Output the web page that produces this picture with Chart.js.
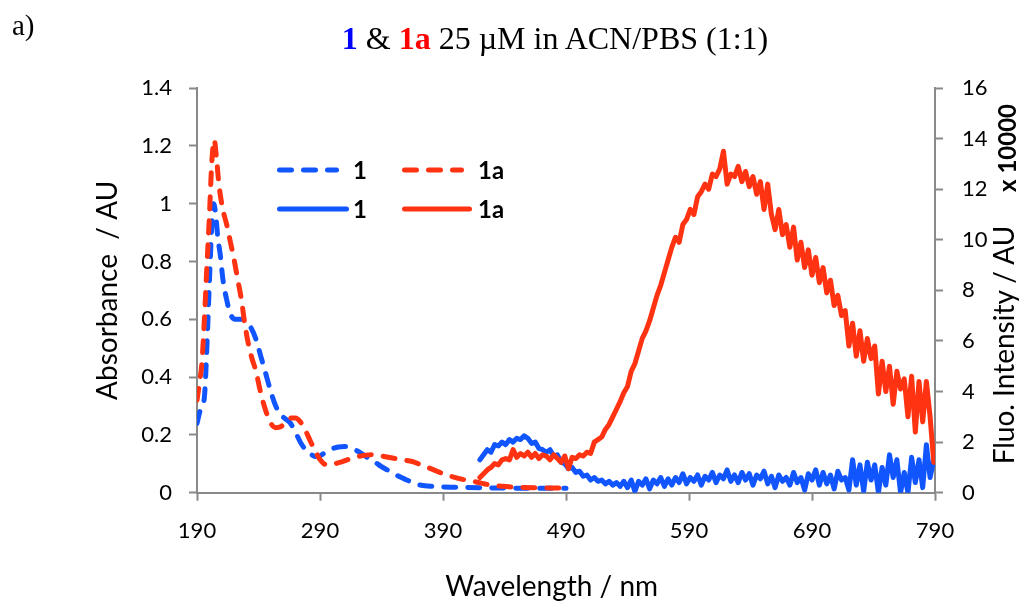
<!DOCTYPE html>
<html>
<head>
<meta charset="utf-8">
<script src="https://cdn.jsdelivr.net/npm/chart.js@4.4.1/dist/chart.umd.min.js"></script>
<style>
  html, body { margin: 0; padding: 0; background: #fff; }
  #wrap { position: relative; width: 1022px; height: 601px; overflow: hidden; }
  #plot { position: absolute; left: 0; top: 0; }
  .lbl { position: absolute; white-space: nowrap; line-height: 1; color: #000; }
  #panel { left: 12px; top: 9px; font: 29px "Liberation Serif", serif; }
  #title { left: 555px; top: 20px; transform: translateX(-50%); font: 32px "Liberation Serif", serif; }
  #title .c1 { color: #0000ff; }
  #title .c1a { color: #ff0000; }
  #rtitle { left: 1003px; top: 345px; transform: translate(-50%, -50%) rotate(-90deg); font: 28px Lato, sans-serif; }
  #mult { left: 1006px; top: 148px; transform: translate(-50%, -50%) rotate(-90deg); font: bold 24px Lato, sans-serif; }
</style>
</head>
<body>
<div id="wrap">
  <canvas id="plot" width="1022" height="601"></canvas>
  <div class="lbl" id="panel">a)</div>
  <div class="lbl" id="title"><b class="c1">1</b> &amp; <b class="c1a">1a</b> 25 µM in ACN/PBS (1:1)</div>
  <div class="lbl" id="rtitle">Fluo. Intensity / AU</div>
  <div class="lbl" id="mult">x 10000</div>
</div>
<script>
// absorbance (left axis)
const absNm1 = [190, 193, 196, 198, 200, 202, 203.5, 205, 207, 209, 211, 214, 217, 221, 226, 230, 234, 238, 242, 246, 250, 254, 258, 262, 266, 270, 274, 278, 282, 287, 291, 295, 300, 305, 310, 315, 320, 325, 330, 335, 340, 345, 350, 355, 360, 365, 370, 378, 390, 400, 420, 440, 460, 490];
const abs1 = [0.24, 0.29, 0.33, 0.5, 0.72, 0.92, 1.0, 0.97, 0.88, 0.82, 0.74, 0.67, 0.62, 0.6, 0.6, 0.59, 0.57, 0.53, 0.47, 0.41, 0.35, 0.3, 0.27, 0.255, 0.24, 0.21, 0.175, 0.15, 0.135, 0.125, 0.13, 0.142, 0.152, 0.158, 0.16, 0.155, 0.145, 0.132, 0.118, 0.105, 0.09, 0.078, 0.065, 0.055, 0.045, 0.036, 0.028, 0.023, 0.02, 0.019, 0.017, 0.016, 0.015, 0.015];

const absNm1a = [190, 192, 194, 196, 198, 200, 202, 204, 206, 208, 211, 214, 217, 220, 223, 226, 229, 232, 235, 238, 241, 244, 247, 250, 254, 258, 262, 266, 270, 274, 278, 282, 286, 290, 295, 300, 306, 313, 320, 327, 333, 340, 349, 357, 365, 373, 382, 390, 398, 406, 414, 421, 428, 438, 450, 465, 490];
const abs1a = [0.32, 0.38, 0.45, 0.6, 0.78, 0.95, 1.14, 1.22, 1.15, 1.06, 0.98, 0.93, 0.87, 0.81, 0.74, 0.67, 0.58, 0.51, 0.46, 0.42, 0.36, 0.31, 0.27, 0.24, 0.225, 0.228, 0.245, 0.258, 0.258, 0.245, 0.217, 0.18, 0.145, 0.115, 0.097, 0.098, 0.105, 0.115, 0.124, 0.13, 0.131, 0.127, 0.12, 0.114, 0.108, 0.095, 0.08, 0.066, 0.055, 0.046, 0.04, 0.033, 0.027, 0.022, 0.019, 0.017, 0.016];

// fluorescence (right axis, x 10000), sampled every 3 nm from 420 nm
const fluoStartNm = 420;
const fluoStepNm = 3;
const fluo1 = [
  1.3, 1.5, 1.7, 1.6, 1.9, 1.85, 2.0, 1.9, 2.1, 2.0,
  2.15, 2.1, 2.25, 2.15, 1.95, 2.0, 1.75, 1.7, 1.6, 1.7,
  1.45, 1.5, 1.2, 1.15, 0.95, 1.0, 0.8, 0.85, 0.65, 0.7,
  0.5, 0.6, 0.45, 0.5, 0.35, 0.45, 0.3, 0.4, 0.25, 0.45,
  0.2, 0.5, 0.05, 0.45, 0.3, 0.55, 0.15, 0.5, 0.35, 0.6,
  0.25, 0.55, 0.3, 0.6, 0.4, 0.75, 0.35, 0.6, 0.45, 0.7,
  0.3, 0.65, 0.5, 0.8, 0.4, 0.7, 0.55, 0.9, 0.45, 0.7,
  0.4, 0.8, 0.5, 0.75, 0.3, 0.7, 0.55, 0.85, 0.35, 0.65,
  0.2, 0.7, 0.45, 0.6, 0.3, 0.8, 0.4, 0.6, 0.1, 0.75,
  0.5, 0.9, 0.3, 0.8, 0.35, 0.7, 0.15, 0.85, 0.5, 0.6,
  0.1, 1.3, 0.3, 1.1, 0.05, 1.2, 0.5, 1.1, 0.0, 1.0,
  0.3, 1.5, 0.6, 1.3, 0.0, 0.8, 0.0, 1.4, 0.4, 1.3,
  0.2, 1.9, 0.6, 1.3
];
const fluo1a = [
  0.6, 0.75, 0.9, 1.0, 1.15, 1.1, 1.3, 1.35, 1.3, 1.7,
  1.4, 1.55, 1.45, 1.6, 1.4, 1.55, 1.35, 1.5, 1.45, 1.3,
  1.5, 1.35, 1.2, 1.45, 0.95, 1.4, 1.35, 1.5, 1.45, 1.6,
  1.55, 2.0, 2.1, 2.2, 2.5, 2.7, 3.0, 3.3, 3.6, 3.95,
  4.2, 4.8, 5.1, 5.6, 6.1, 6.4, 6.8, 7.3, 7.8, 8.2,
  8.7, 9.2, 9.7, 10.1, 9.9, 10.6, 10.8, 11.2, 11.0, 11.7,
  11.9, 12.2, 12.0, 12.6, 12.5, 12.8, 13.5, 12.2, 12.6, 12.5,
  12.9, 12.3, 12.7, 12.1, 12.5, 11.8, 12.3, 11.2, 12.2, 11.0,
  10.4, 11.2, 10.2, 10.6, 9.7, 10.5, 9.2, 9.9, 8.9, 9.6,
  8.6, 9.3, 8.3, 8.9, 7.9, 8.4, 7.4, 7.8, 7.0, 7.2,
  5.8, 6.7, 5.4, 6.4, 5.2, 6.1, 5.3, 5.8, 3.9, 5.2,
  4.0, 5.0, 3.5, 4.8, 4.1, 4.5, 3.0, 4.6, 2.4, 4.4,
  2.8, 4.4, 3.0, 1.2
];

const xTicks = [190, 290, 390, 490, 590, 690, 790];

const blue = "#1155ff";
const red = "#ff3311";
const axisGrey = "#898989";

const pts = (xs, ys) => ys.map((y, i) => ({ x: xs[i], y: y }));
const fluoNm = fluo1.map((_, i) => fluoStartNm + i * fluoStepNm);

// legend drawn inside the plot, 2 x 2
const insideLegend = {
  id: "insideLegend",
  afterDraw(chart) {
    const ctx = chart.ctx;
    const slots = [
      { ds: 0, x0: 277, x1: 339, y: 170, tx: 353 },
      { ds: 1, x0: 402, x1: 464, y: 170, tx: 478 },
      { ds: 2, x0: 277, x1: 349, y: 209, tx: 353 },
      { ds: 3, x0: 402, x1: 472, y: 209, tx: 478 }
    ];
    ctx.save();
    slots.forEach(s => {
      const d = chart.data.datasets[s.ds];
      ctx.strokeStyle = d.borderColor;
      ctx.lineWidth = d.borderWidth;
      ctx.lineCap = "round";
      ctx.setLineDash(d.borderDash || []);
      ctx.beginPath();
      ctx.moveTo(s.x0 + d.borderWidth / 2, s.y);
      ctx.lineTo(s.x1 - d.borderWidth / 2, s.y);
      ctx.stroke();
      ctx.setLineDash([]);
      ctx.fillStyle = "#000";
      ctx.font = "bold 24px Lato";
      ctx.textBaseline = "middle";
      ctx.textAlign = "left";
      ctx.fillText(d.label, s.tx, s.y + 1);
    });
    ctx.restore();
  }
};

const tickFont = { family: "Lato", size: 22 };
const titleFont = { family: "Lato", size: 28, lineHeight: 1 };

const ctx = document.getElementById("plot");

const chart = new Chart(ctx, {
  type: "line",
  data: {
    datasets: [
      {
        label: "1",
        data: pts(absNm1, abs1),
        yAxisID: "y",
        borderColor: blue,
        borderWidth: 5,
        borderDash: [12, 12],
        borderCapStyle: "round",
        cubicInterpolationMode: "monotone",
        pointRadius: 0,
        order: 3
      },
      {
        label: "1a",
        data: pts(absNm1a, abs1a),
        yAxisID: "y",
        borderColor: red,
        borderWidth: 5,
        borderDash: [12, 12],
        borderCapStyle: "round",
        cubicInterpolationMode: "monotone",
        pointRadius: 0,
        order: 2
      },
      {
        label: "1",
        data: pts(fluoNm, fluo1),
        yAxisID: "y1",
        borderColor: blue,
        borderWidth: 5,
        borderJoinStyle: "round",
        borderCapStyle: "round",
        tension: 0,
        pointRadius: 0,
        order: 1
      },
      {
        label: "1a",
        data: pts(fluoNm, fluo1a),
        yAxisID: "y1",
        borderColor: red,
        borderWidth: 5,
        borderJoinStyle: "round",
        borderCapStyle: "round",
        tension: 0,
        pointRadius: 0,
        order: 0
      }
    ]
  },
  options: {
    responsive: false,
    animation: false,
    devicePixelRatio: 1,
    events: [],
    layout: {
      padding: { left: 94, right: 0, top: 88, bottom: 0 }
    },
    plugins: {
      legend: { display: false },
      tooltip: { enabled: false },
      title: { display: false }
    },
    scales: {
      x: {
        type: "linear",
        min: 190,
        max: 790,
        afterBuildTicks: s => {
          s.ticks = xTicks.map(v => ({ value: v }));
        },
        ticks: { font: tickFont, color: "#000", padding: 17, maxRotation: 0 },
        grid: { display: true, drawOnChartArea: false, drawTicks: true, tickLength: 8, tickColor: axisGrey, tickWidth: 2 },
        border: { display: true, color: axisGrey, width: 2 },
        // trailing spaces pull the centred title a little left, as in the original
        title: { display: true, text: "Wavelength / nm    ", font: titleFont, color: "#000", padding: 0 },
        afterFit: s => {
          s.height = 108.3;
        }
      },
      y: {
        position: "left",
        min: 0,
        max: 1.4,
        ticks: {
          stepSize: 0.2,
          font: tickFont,
          color: "#000",
          padding: 17,
          callback: v => String(Math.round(v * 10) / 10)
        },
        grid: { display: true, drawOnChartArea: false, drawTicks: true, tickLength: 8, tickColor: axisGrey, tickWidth: 2 },
        border: { display: true, color: axisGrey, width: 2 },
        title: { display: true, text: "Absorbance  / AU", font: titleFont, color: "#000", padding: 0 },
        afterFit: s => {
          s.width = 103;
        }
      },
      y1: {
        position: "right",
        min: 0,
        max: 16,
        ticks: { stepSize: 2, font: tickFont, color: "#000", padding: 19 },
        grid: { display: true, drawOnChartArea: false, drawTicks: true, tickLength: 8, tickColor: axisGrey, tickWidth: 2 },
        border: { display: true, color: axisGrey, width: 2 },
        afterFit: s => {
          s.width = 87;
        }
      }
    }
  },
  plugins: [insideLegend]
});
</script>
</body>
</html>
